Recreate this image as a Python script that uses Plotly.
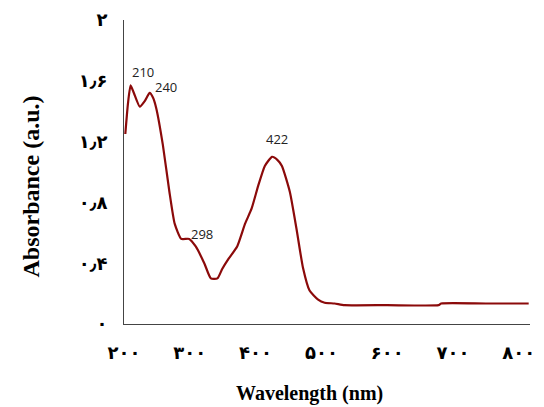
import plotly.graph_objects as go

# Spectrum
wavelength = [202, 206, 210, 215, 224, 232, 239, 244, 249, 259, 269, 277, 287, 299, 309, 322, 332, 342,
              349, 359, 372, 384, 394, 404, 414, 425, 433, 440, 452, 462, 472, 482, 495, 505, 520, 535,
              600, 678, 682, 750, 815]
absorbance = [1.25, 1.45, 1.57, 1.52, 1.43, 1.47, 1.52, 1.49, 1.42, 1.18, 0.87, 0.66, 0.56, 0.56, 0.51,
              0.40, 0.30, 0.30, 0.36, 0.43, 0.51, 0.66, 0.76, 0.91, 1.04, 1.10, 1.08, 1.04, 0.87, 0.63,
              0.37, 0.22, 0.16, 0.14, 0.135, 0.124, 0.124, 0.124, 0.135, 0.135, 0.135]

peak_labels = ["210", "240", "298", "422"]
peak_label_x = [229, 264, 319, 432]
peak_label_y = [1.655, 1.557, 0.595, 1.218]

x_tickvals = [200, 300, 400, 500, 600, 700, 800]
x_ticktext = ["۲۰۰", "۳۰۰", "۴۰۰", "۵۰۰", "۶۰۰", "۷۰۰", "۸۰۰"]
y_tickvals = [0, 0.4, 0.8, 1.2, 1.6, 2.0]
y_ticktext = ["۰", "۰٫۴", "۰٫۸", "۱٫۲", "۱٫۶", "۲"]

fig = go.Figure()
fig.add_trace(go.Scatter(x=wavelength, y=absorbance, mode="lines",
                         line=dict(color="#8B0A0A", width=2.2, shape="spline", smoothing=0.5),
                         showlegend=False, hoverinfo="skip"))

for t, x, y in zip(peak_labels, peak_label_x, peak_label_y):
    fig.add_annotation(x=x, y=y, text=t, showarrow=False,
                       font=dict(family="Open Sans, Liberation Sans, sans-serif", size=13, color="#222"))

tick_font = dict(family="DejaVu Sans, sans-serif", size=18, color="black", weight="bold")

fig.update_layout(
    width=544, height=407,
    margin=dict(l=124, r=9, t=17, b=83),
    paper_bgcolor="white", plot_bgcolor="white",
    xaxis=dict(range=[200, 817], showgrid=False, zeroline=False, showline=True,
               linecolor="#444", linewidth=1, ticks="", tickvals=x_tickvals, ticktext=x_ticktext,
               tickfont=tick_font, ticklabelstandoff=12),
    yaxis=dict(range=[0, 2], showgrid=False, zeroline=False, showline=True,
               linecolor="#444", linewidth=1, ticks="", tickvals=y_tickvals, ticktext=y_ticktext,
               tickfont=tick_font, ticklabelstandoff=12),
)

fig.add_annotation(xref="paper", yref="paper", x=(312 - 124) / 411, y=(324 - 394) / 307,
                   xanchor="center", yanchor="middle", text="<b>Wavelength (nm)</b>", showarrow=False,
                   font=dict(family="Liberation Serif, serif", size=20, color="black"))
fig.add_annotation(xref="paper", yref="paper", x=(30 - 124) / 411, y=(324 - 185) / 307,
                   xanchor="center", yanchor="middle",
                   text="<b>Absorbance (a.u.)</b>", showarrow=False, textangle=-90,
                   font=dict(family="Liberation Serif, serif", size=24, color="black"))

fig.write_html("out.html")
